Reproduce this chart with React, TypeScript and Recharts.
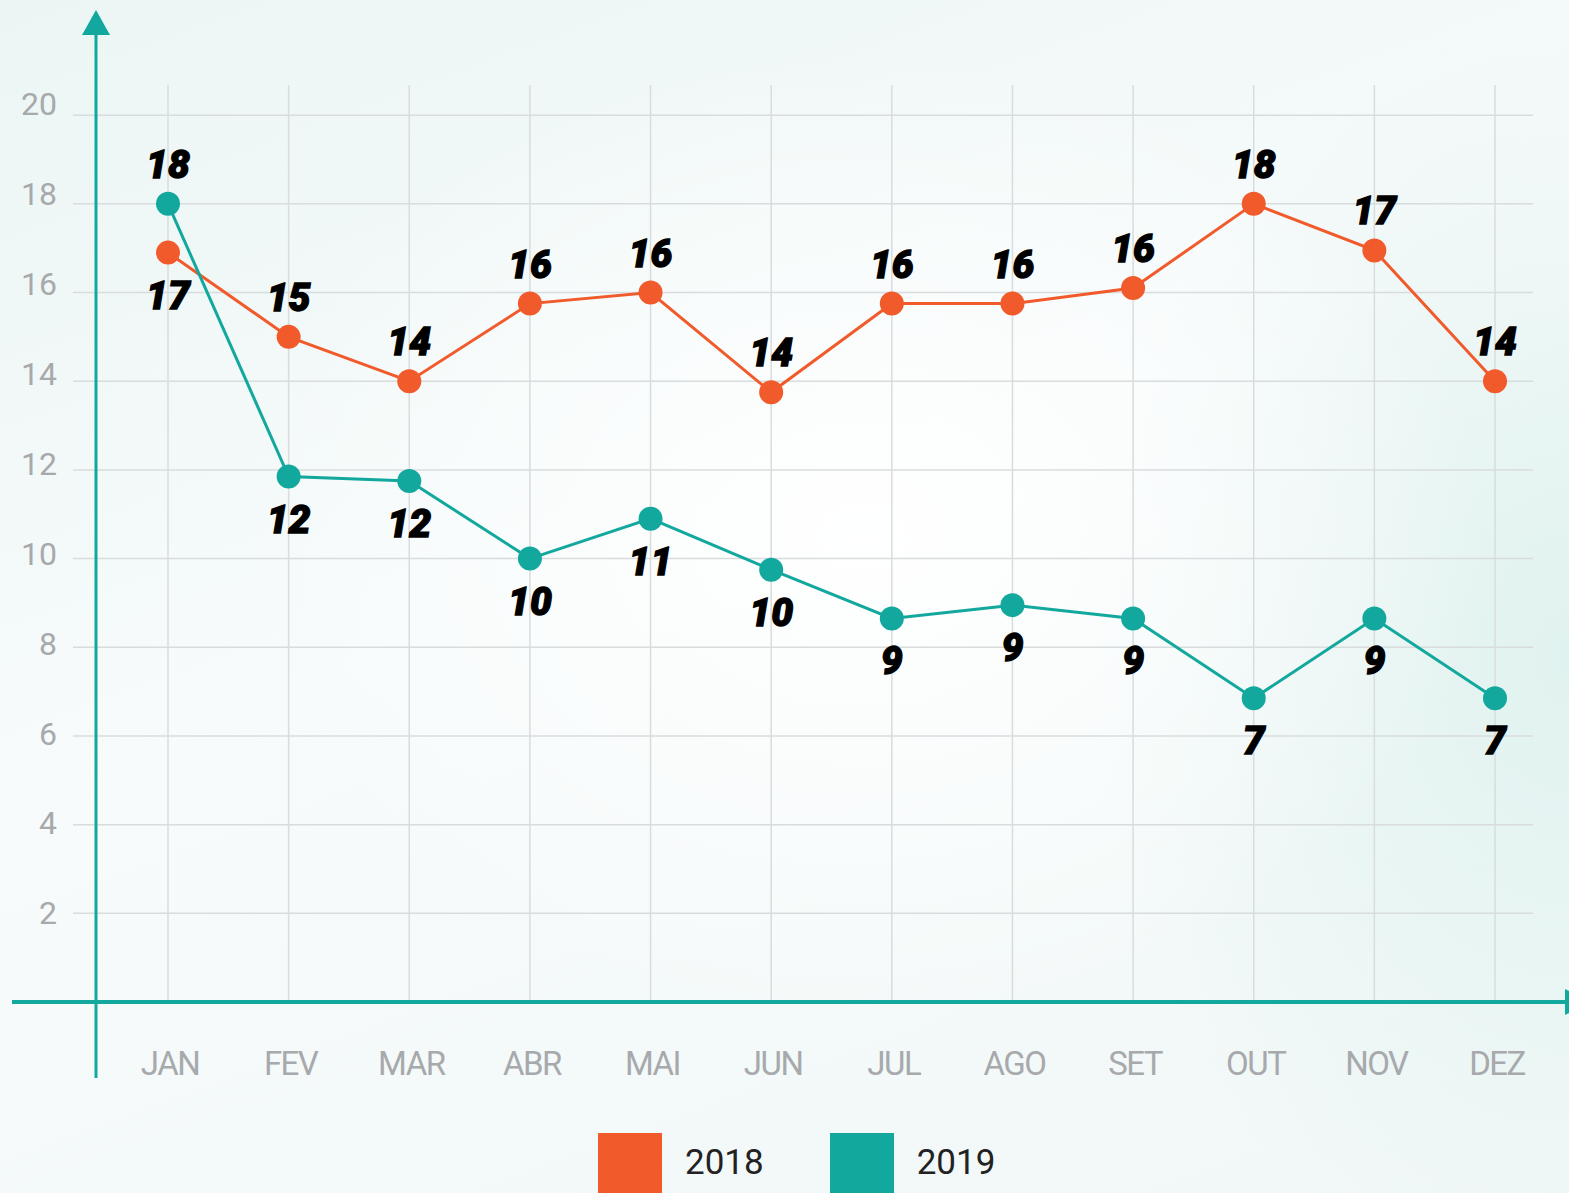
import { LineChart, Line, XAxis, YAxis, ReferenceLine } from 'recharts'

// valores
const months = ['JAN', 'FEV', 'MAR', 'ABR', 'MAI', 'JUN', 'JUL', 'AGO', 'SET', 'OUT', 'NOV', 'DEZ']
const values2018 = [16.9, 15.0, 14.0, 15.75, 16.0, 13.75, 15.75, 15.75, 16.1, 18.0, 16.95, 14.0]
const values2019 = [18.0, 11.85, 11.75, 10.0, 10.9, 9.75, 8.65, 8.95, 8.65, 6.85, 8.65, 6.85]
const labels2018 = [17, 15, 14, 16, 16, 14, 16, 16, 16, 18, 17, 14]
const labels2019 = [18, 12, 12, 10, 11, 10, 9, 9, 9, 7, 9, 7]
const yTicks = [2, 4, 6, 8, 10, 12, 14, 16, 18, 20]
const seriesNames = ['2018', '2019']

const ORANGE = '#f15a2b'
const TEAL = '#13a89e'
const GRID = '#d8dcdd'
const TICK = '#a7a9ac'

const data = months.map((m, i) => ({ month: m, y2018: values2018[i], y2019: values2019[i] }))

function makeLabel(labels: number[], own: number[], other: number[]) {
  return (props: any) => {
    const { x, y, index } = props
    if (index == null) return null
    const above = own[index] >= other[index]
    return (
      <text
        x={x}
        y={above ? y - 26 : y + 56}
        textAnchor="middle"
        fontFamily="Roboto, sans-serif"
        fontWeight={900}
        fontStyle="italic"
        fontSize={39}
        fill="#000"
        stroke="#000"
        strokeWidth={1.3}
      >
        {labels[index]}
      </text>
    )
  }
}

const YTick = (props: any) => {
  const { y, payload } = props
  const v = payload.value
  // os rótulos sobem um pouco em relação à grade
  const dy = 11 - (11 * (v - 2)) / 18
  return (
    <text x={57} y={y + dy} textAnchor="end" fontFamily="Roboto, sans-serif" fontSize={32} fill={TICK}>
      {v}
    </text>
  )
}

const XTick = (props: any) => {
  const { x, y, payload } = props
  return (
    <text x={x + 2} y={y + 71} textAnchor="middle" fontFamily="Roboto, sans-serif" fontSize={33}
      letterSpacing={-1.5} fill={TICK}>
      {payload.value}
    </text>
  )
}

export default function App() {
  return (
    <div
      style={{
        position: 'absolute', left: 0, top: 0, width: 1569, height: 1193, overflow: 'hidden',
        background:
          'radial-gradient(ellipse 900px 700px at 55% 45%, rgba(255,255,255,0.95), rgba(255,255,255,0) 70%),' +
          'radial-gradient(ellipse 600px 800px at 100% 55%, #e0f2ef, rgba(224,242,239,0) 80%),' +
          'linear-gradient(160deg, #ebf6f4 0%, #f7fbfb 45%, #f1f8f7 100%)',
      }}
    >
      <LineChart width={1569} height={1193} data={data} margin={{ top: 85, right: 36, bottom: 161, left: 0 }}>
        <XAxis
          dataKey="month"
          height={30}
          axisLine={false}
          tickLine={false}
          tickSize={0}
          padding={{ left: 95, right: 38 }}
          tick={XTick}
          interval={0}
        />
        <YAxis
          width={73}
          domain={[0, 20.68]}
          ticks={yTicks}
          axisLine={false}
          tickLine={false}
          tick={YTick}
        />
        {yTicks.map(t => (
          <ReferenceLine key={'h' + t} y={t} stroke={GRID} strokeWidth={1.5} />
        ))}
        {months.map(m => (
          <ReferenceLine key={'v' + m} x={m} stroke={GRID} strokeWidth={1.5} />
        ))}
        <Line
          dataKey="y2018"
          name={seriesNames[0]}
          stroke={ORANGE}
          strokeWidth={3}
          dot={{ r: 12, fill: ORANGE, stroke: 'none' }}
          activeDot={false}
          label={makeLabel(labels2018, values2018, values2019)}
          isAnimationActive={false}
        />
        <Line
          dataKey="y2019"
          name={seriesNames[1]}
          stroke={TEAL}
          strokeWidth={3}
          dot={{ r: 12, fill: TEAL, stroke: 'none' }}
          activeDot={false}
          label={makeLabel(labels2019, values2019, values2018)}
          isAnimationActive={false}
        />
      </LineChart>

      {/* eixos com setas */}
      <svg width={1569} height={1193} style={{ position: 'absolute', left: 0, top: 0, pointerEvents: 'none' }}>
        <line x1={96} y1={30} x2={96} y2={1078} stroke={TEAL} strokeWidth={3} />
        <polygon points="96,10 82,35 110,35" fill={TEAL} />
        <line x1={12} y1={1002} x2={1570} y2={1002} stroke={TEAL} strokeWidth={4} />
        <polygon points="1565,989 1565,1015 1592,1002" fill={TEAL} />
      </svg>

      {/* legenda */}
      <div style={{ position: 'absolute', top: 1133, left: 598, display: 'flex', alignItems: 'flex-start' }}>
        {seriesNames.map((name, i) => (
          <div key={name} style={{ display: 'flex', alignItems: 'flex-start', marginRight: 66 }}>
            <div style={{ width: 64, height: 64, background: i === 0 ? ORANGE : TEAL }} />
            <span
              style={{
                marginLeft: 23, marginTop: 10, fontFamily: 'Roboto, sans-serif', fontSize: 35,
                color: '#222', lineHeight: '40px',
              }}
            >
              {name}
            </span>
          </div>
        ))}
      </div>
    </div>
  )
}
